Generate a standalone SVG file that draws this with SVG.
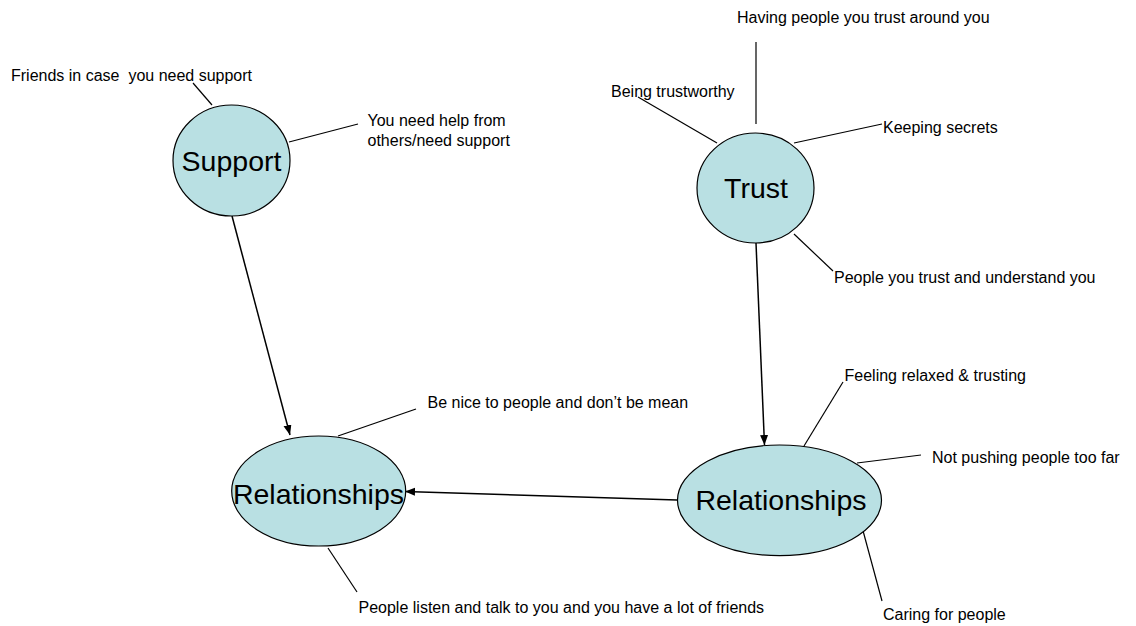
<svg xmlns="http://www.w3.org/2000/svg" width="1136" height="626" viewBox="0 0 1136 626">
  <style>
    .bubble { fill: #b9e0e3; stroke: #000; stroke-width: 1.2; }
    .title { font-family: "Liberation Sans", Arial, sans-serif; font-size: 28.5px; fill: #000; text-anchor: middle; }
    .note { font-family: "Liberation Sans", Arial, sans-serif; font-size: 16px; fill: #000; white-space: pre; }
    .spoke { stroke: #000; stroke-width: 1.2; fill: none; }
    .arrow { stroke: #000; stroke-width: 1.5; fill: none; marker-end: url(#head); }
  </style>
  <defs>
    <marker id="head" markerUnits="userSpaceOnUse" markerWidth="11" markerHeight="9" refX="10" refY="4" orient="auto">
      <path d="M0,0 L10,4 L0,8 z" fill="#000"/>
    </marker>
  </defs>
  <rect width="1136" height="626" fill="#fff"/>

  <!-- connectors -->
  <g id="connectors">
    <!-- Support spokes -->
    <line class="spoke" x1="212" y1="105" x2="193" y2="83"/>
    <line class="spoke" x1="289" y1="142" x2="358" y2="124"/>
    <!-- Trust spokes -->
    <line class="spoke" x1="756" y1="124" x2="756" y2="42"/>
    <line class="spoke" x1="717" y1="143" x2="638" y2="97"/>
    <line class="spoke" x1="794" y1="143" x2="882" y2="124"/>
    <line class="spoke" x1="794" y1="234" x2="833" y2="271"/>
    <!-- Relationships (right) spokes -->
    <line class="spoke" x1="804" y1="446" x2="843" y2="382"/>
    <line class="spoke" x1="857" y1="463" x2="921" y2="455"/>
    <line class="spoke" x1="862" y1="527" x2="882" y2="601"/>
    <!-- Relationships (left) spokes -->
    <line class="spoke" x1="338" y1="436" x2="416" y2="409"/>
    <line class="spoke" x1="328" y1="548" x2="357" y2="592"/>
    <!-- arrows -->
    <line class="arrow" x1="232" y1="216" x2="290" y2="435"/>
    <line class="arrow" x1="756" y1="243" x2="764.5" y2="445"/>
    <line class="arrow" x1="677" y1="500" x2="405" y2="491.5"/>
  </g>

  <g id="support">
    <ellipse class="bubble" cx="231.5" cy="160.5" rx="58.5" ry="55.5"/>
    <text class="title" x="231.5" y="171">Support</text>
  </g>

  <g id="trust">
    <ellipse class="bubble" cx="755.5" cy="188" rx="58.5" ry="55"/>
    <text class="title" x="756" y="198">Trust</text>
  </g>

  <g id="relationships-left">
    <ellipse class="bubble" cx="318.7" cy="491" rx="87" ry="55"/>
    <text class="title" x="318.5" y="504">Relationships</text>
  </g>

  <g id="relationships-right">
    <ellipse class="bubble" cx="779.5" cy="500.3" rx="102" ry="55.3"/>
    <text class="title" x="781" y="510">Relationships</text>
  </g>

  <g id="notes">
    <text class="note" x="11" y="81">Friends in case  you need support</text>
    <text class="note" x="367.5" y="126">You need help from</text>
    <text class="note" x="367.5" y="146">others/need support</text>
    <text class="note" x="737" y="23">Having people you trust around you</text>
    <text class="note" x="611" y="97">Being trustworthy</text>
    <text class="note" x="883" y="133">Keeping secrets</text>
    <text class="note" x="834" y="283">People you trust and understand you</text>
    <text class="note" x="844.5" y="381">Feeling relaxed &amp; trusting</text>
    <text class="note" x="932" y="463">Not pushing people too far</text>
    <text class="note" x="883" y="620">Caring for people</text>
    <text class="note" x="427.5" y="408">Be nice to people and don’t be mean</text>
    <text class="note" x="358.5" y="613">People listen and talk to you and you have a lot of friends</text>
  </g>
</svg>
